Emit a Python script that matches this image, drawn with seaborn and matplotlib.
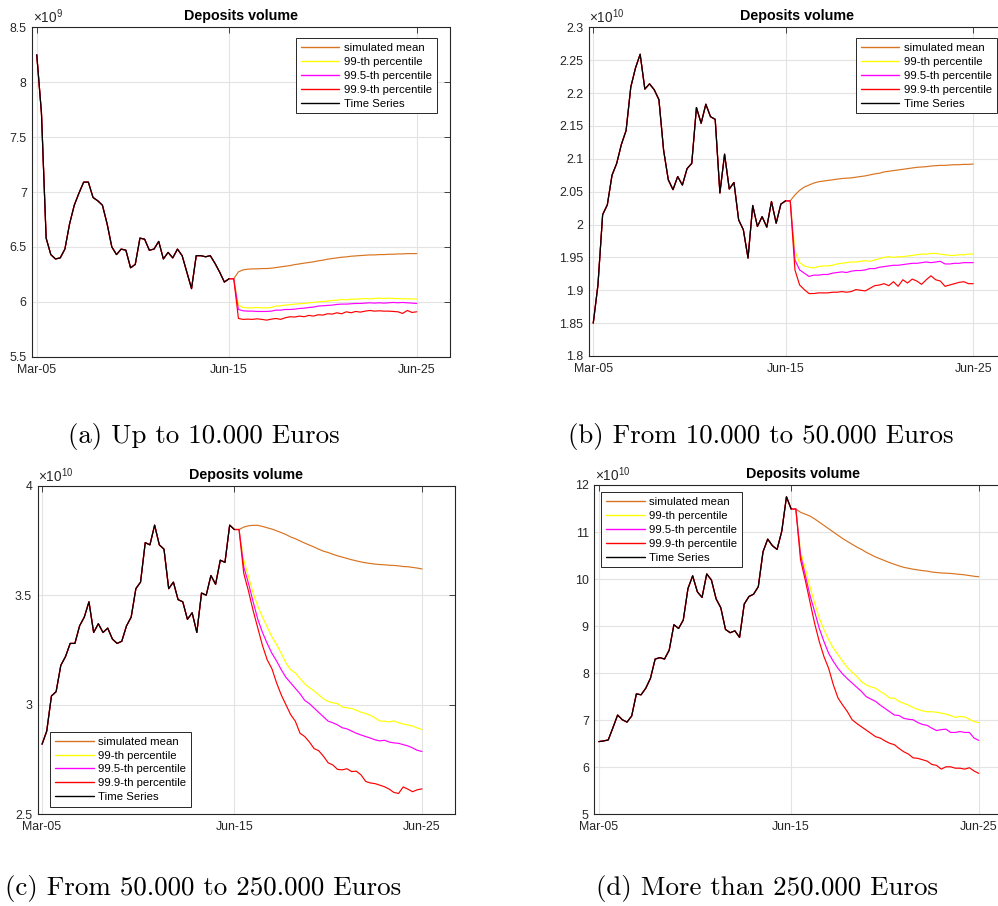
import numpy as np
import pandas as pd
import matplotlib
matplotlib.use("Agg")
import matplotlib.pyplot as plt
from matplotlib.lines import Line2D
from matplotlib.ticker import MultipleLocator, FuncFormatter, FixedLocator
import seaborn as sns

sns.set_theme(style="white")
plt.rcParams["font.family"] = ["Liberation Sans", "DejaVu Sans"]
plt.rcParams["mathtext.fontset"] = "custom"
plt.rcParams["mathtext.rm"] = "Liberation Sans"
plt.rcParams["mathtext.it"] = "Liberation Sans:italic"
plt.rcParams["mathtext.bf"] = "Liberation Sans:bold"

# ---------------------------------------------------------------------------
# Quarterly deposit volumes: observed history Mar-05 .. Jun-15 (42 quarters)
# and simulated paths Sep-15 .. Jun-25 (40 quarters).
# Values are in units of 10^exponent euros (see EXPONENTS).
# ---------------------------------------------------------------------------
tick_quarters = [0, 41, 81]
tick_labels = ["Mar-05", "Jun-15", "Jun-25"]
series_labels = ["simulated mean", "99-th percentile", "99.5-th percentile",
                 "99.9-th percentile", "Time Series"]
EXPONENTS = [9, 10, 10, 10]

# (a) Up to 10.000 Euros
hist_a = [8.25, 7.72, 6.58, 6.43, 6.39, 6.40, 6.48, 6.71, 6.88, 6.99, 7.09, 7.09,
          6.95, 6.92, 6.88, 6.71, 6.50, 6.43, 6.48, 6.47, 6.31, 6.34, 6.58, 6.57,
          6.47, 6.48, 6.55, 6.39, 6.45, 6.40, 6.48, 6.42, 6.27, 6.12, 6.42, 6.42,
          6.41, 6.42, 6.35, 6.27, 6.18, 6.21]
mean_a = [6.21, 6.273, 6.291, 6.297, 6.30, 6.30, 6.303, 6.303, 6.306, 6.312,
          6.318, 6.324, 6.33, 6.339, 6.345, 6.352, 6.358, 6.364, 6.373, 6.379,
          6.388, 6.394, 6.40, 6.406, 6.409, 6.415, 6.418, 6.421, 6.424, 6.427,
          6.427, 6.43, 6.43, 6.433, 6.433, 6.436, 6.436, 6.439, 6.439, 6.439]
p99_a = [6.21, 5.97, 5.948, 5.945, 5.945, 5.948, 5.945, 5.945, 5.948, 5.961,
         5.964, 5.97, 5.973, 5.979, 5.982, 5.985, 5.991, 5.994, 6.0, 6.003,
         6.006, 6.012, 6.015, 6.021, 6.018, 6.024, 6.024, 6.027, 6.03, 6.027,
         6.03, 6.033, 6.03, 6.033, 6.03, 6.03, 6.027, 6.027, 6.027, 6.024]
p995_a = [6.21, 5.93, 5.918, 5.915, 5.915, 5.912, 5.912, 5.912, 5.915, 5.924,
          5.924, 5.93, 5.93, 5.933, 5.939, 5.942, 5.948, 5.952, 5.961, 5.964,
          5.967, 5.97, 5.976, 5.979, 5.979, 5.982, 5.985, 5.985, 5.988, 5.991,
          5.988, 5.991, 5.988, 5.991, 5.994, 5.991, 5.994, 5.991, 5.988, 5.985]
p999_a = [6.21, 5.848, 5.84, 5.842, 5.84, 5.845, 5.84, 5.833, 5.842, 5.848,
          5.84, 5.855, 5.864, 5.861, 5.87, 5.864, 5.876, 5.87, 5.882, 5.879,
          5.891, 5.888, 5.90, 5.891, 5.909, 5.90, 5.912, 5.906, 5.915, 5.921,
          5.915, 5.918, 5.915, 5.915, 5.912, 5.909, 5.894, 5.921, 5.903, 5.909]

# (b) From 10.000 to 50.000 Euros
hist_b = [1.85, 1.908, 2.015, 2.03, 2.075, 2.093, 2.122, 2.143, 2.209, 2.238,
          2.259, 2.206, 2.214, 2.205, 2.19, 2.113, 2.068, 2.053, 2.073, 2.06,
          2.085, 2.093, 2.178, 2.154, 2.183, 2.164, 2.16, 2.048, 2.107, 2.054,
          2.064, 2.007, 1.992, 1.949, 2.029, 1.997, 2.012, 1.996, 2.035, 2.002,
          2.031, 2.036]
mean_b = [2.036, 2.045, 2.052, 2.057, 2.060, 2.063, 2.065, 2.066, 2.067, 2.068,
          2.069, 2.070, 2.0705, 2.071, 2.072, 2.073, 2.074, 2.0755, 2.077, 2.078,
          2.080, 2.081, 2.082, 2.083, 2.084, 2.085, 2.086, 2.087, 2.0875, 2.088,
          2.089, 2.0895, 2.090, 2.090, 2.0905, 2.091, 2.091, 2.0915, 2.0915, 2.092]
p99_b = [2.036, 1.96, 1.942, 1.937, 1.935, 1.934, 1.936, 1.937, 1.937, 1.938,
         1.940, 1.941, 1.942, 1.943, 1.943, 1.944, 1.945, 1.944, 1.946, 1.948,
         1.950, 1.951, 1.950, 1.951, 1.951, 1.952, 1.953, 1.954, 1.955, 1.955,
         1.956, 1.956, 1.955, 1.954, 1.953, 1.953, 1.954, 1.954, 1.955, 1.955]
p995_b = [2.036, 1.946, 1.931, 1.926, 1.921, 1.923, 1.923, 1.924, 1.924, 1.926,
          1.927, 1.928, 1.927, 1.929, 1.930, 1.930, 1.931, 1.933, 1.933, 1.935,
          1.936, 1.937, 1.938, 1.938, 1.939, 1.940, 1.941, 1.941, 1.942, 1.943,
          1.942, 1.943, 1.944, 1.940, 1.940, 1.941, 1.941, 1.942, 1.942, 1.942]
p999_b = [2.036, 1.931, 1.908, 1.901, 1.895, 1.895, 1.896, 1.896, 1.896, 1.897,
          1.897, 1.898, 1.897, 1.898, 1.901, 1.900, 1.899, 1.903, 1.907, 1.908,
          1.910, 1.907, 1.913, 1.906, 1.916, 1.911, 1.917, 1.914, 1.909, 1.916,
          1.922, 1.916, 1.914, 1.906, 1.908, 1.910, 1.912, 1.913, 1.910, 1.910]

# (c) From 50.000 to 250.000 Euros
hist_c = [2.82, 2.88, 3.04, 3.06, 3.18, 3.22, 3.28, 3.28, 3.36, 3.40, 3.47, 3.33,
          3.37, 3.33, 3.35, 3.30, 3.28, 3.29, 3.36, 3.40, 3.53, 3.56, 3.74, 3.73,
          3.82, 3.73, 3.71, 3.53, 3.56, 3.48, 3.47, 3.39, 3.42, 3.33, 3.51, 3.50,
          3.59, 3.55, 3.66, 3.65, 3.82, 3.80]
mean_c = [3.80, 3.811, 3.817, 3.819, 3.819, 3.814, 3.808, 3.802, 3.794, 3.786,
          3.777, 3.766, 3.758, 3.748, 3.738, 3.729, 3.720, 3.710, 3.701, 3.695,
          3.687, 3.680, 3.674, 3.668, 3.662, 3.657, 3.652, 3.648, 3.645, 3.642,
          3.640, 3.639, 3.637, 3.636, 3.634, 3.631, 3.630, 3.627, 3.624, 3.620]
p99_c = [3.80, 3.66, 3.585, 3.51, 3.45, 3.40, 3.355, 3.31, 3.275, 3.235,
         3.19, 3.16, 3.145, 3.12, 3.095, 3.078, 3.063, 3.045, 3.027, 3.015,
         3.009, 3.005, 2.99, 2.986, 2.983, 2.975, 2.966, 2.96, 2.952, 2.94,
         2.926, 2.925, 2.922, 2.926, 2.918, 2.912, 2.908, 2.903, 2.894, 2.887]
p995_c = [3.80, 3.63, 3.555, 3.47, 3.39, 3.33, 3.28, 3.235, 3.20, 3.16,
          3.125, 3.10, 3.075, 3.05, 3.02, 3.005, 2.985, 2.965, 2.945, 2.925,
          2.918, 2.908, 2.895, 2.89, 2.88, 2.87, 2.862, 2.855, 2.848, 2.84,
          2.835, 2.838, 2.83, 2.826, 2.824, 2.818, 2.812, 2.803, 2.792, 2.787]
p999_c = [3.80, 3.60, 3.52, 3.43, 3.35, 3.27, 3.205, 3.165, 3.10, 3.045,
          3.00, 2.955, 2.925, 2.87, 2.855, 2.83, 2.80, 2.79, 2.765, 2.735,
          2.725, 2.705, 2.703, 2.708, 2.695, 2.697, 2.68, 2.65, 2.643, 2.64,
          2.633, 2.626, 2.615, 2.60, 2.595, 2.625, 2.615, 2.603, 2.612, 2.616]

# (d) More than 250.000 Euros
hist_d = [6.545, 6.56, 6.58, 6.84, 7.11, 7.01, 6.96, 7.09, 7.56, 7.54, 7.68, 7.89,
          8.30, 8.33, 8.30, 8.49, 9.03, 8.95, 9.13, 9.80, 10.07, 9.73, 9.61, 10.11,
          9.98, 9.58, 9.39, 8.93, 8.86, 8.90, 8.76, 9.47, 9.63, 9.68, 9.84, 10.58,
          10.85, 10.71, 10.63, 11.02, 11.75, 11.49]
mean_d = [11.49, 11.42, 11.38, 11.34, 11.28, 11.21, 11.14, 11.07, 11.0, 10.93,
          10.86, 10.80, 10.74, 10.68, 10.63, 10.57, 10.52, 10.47, 10.43, 10.39,
          10.35, 10.315, 10.28, 10.25, 10.23, 10.21, 10.195, 10.18, 10.17, 10.15,
          10.14, 10.13, 10.125, 10.12, 10.11, 10.10, 10.09, 10.075, 10.06, 10.05]
p99_d = [11.49, 10.585, 10.23, 9.84, 9.49, 9.17, 8.92, 8.71, 8.53, 8.39,
         8.25, 8.12, 8.02, 7.93, 7.82, 7.75, 7.71, 7.68, 7.61, 7.55,
         7.47, 7.47, 7.40, 7.36, 7.32, 7.27, 7.23, 7.20, 7.18, 7.18,
         7.17, 7.15, 7.13, 7.10, 7.06, 7.08, 7.07, 7.02, 6.97, 6.95]
p995_d = [11.49, 10.51, 10.09, 9.66, 9.31, 8.95, 8.67, 8.42, 8.25, 8.10,
          7.98, 7.88, 7.79, 7.70, 7.61, 7.50, 7.45, 7.40, 7.32, 7.25,
          7.18, 7.11, 7.10, 7.04, 7.02, 7.01, 6.95, 6.91, 6.89, 6.83,
          6.78, 6.80, 6.81, 6.74, 6.74, 6.76, 6.74, 6.74, 6.62, 6.57]
p999_d = [11.49, 10.41, 9.98, 9.52, 9.06, 8.67, 8.35, 8.10, 7.75, 7.47,
          7.32, 7.18, 7.01, 6.93, 6.86, 6.79, 6.72, 6.65, 6.62, 6.56,
          6.51, 6.48, 6.40, 6.33, 6.28, 6.20, 6.19, 6.16, 6.13, 6.06,
          6.04, 5.96, 6.01, 6.01, 5.98, 5.98, 5.96, 5.99, 5.92, 5.87]

captions = ["(a) Up to 10.000 Euros",
            "(b) From 10.000 to 50.000 Euros",
            "(c) From 50.000 to 250.000 Euros",
            "(d) More than 250.000 Euros"]

# ---------------------------------------------------------------------------
W, H = 998, 906
fig = plt.figure(figsize=(W / 100, H / 100), dpi=100)
fig.patch.set_facecolor("white")

colors = ["#D8731F", "#FFFF00", "#FF00FF", "#FF0000", "#000000"]
palette = dict(zip(series_labels, colors))
INK = "#262626"


def px_rect(left, top, width, height):
    return [left / W, 1 - (top + height) / H, width / W, height / H]


layout = [
    dict(rect=px_rect(32.3, 27.3, 417.2, 329.4), ylim=(5.5, 8.5), step=0.5,
         loc="upper right", anchor=(0.9698, 0.9666), cap=(204, 443.5)),
    dict(rect=px_rect(588.8, 27.3, 417.2, 328.7), ylim=(1.8, 2.3), step=0.05,
         loc="upper right", anchor=(0.978, 0.9666), cap=(761, 443.5)),
    dict(rect=px_rect(37.6, 485.7, 417.2, 328.6), ylim=(2.5, 4.0), step=0.5,
         loc="lower left", anchor=(0.0305, 0.0222), cap=(203, 895.5)),
    dict(rect=px_rect(594.4, 485.0, 417.2, 329.3), ylim=(5.0, 12.0), step=1.0,
         loc="upper left", anchor=(0.016, 0.978), cap=(767, 895.5)),
]

data = [
    (hist_a, mean_a, p99_a, p995_a, p999_a),
    (hist_b, mean_b, p99_b, p995_b, p999_b),
    (hist_c, mean_c, p99_c, p995_c, p999_c),
    (hist_d, mean_d, p99_d, p995_d, p999_d),
]

for (hist, mean, p99, p995, p999), exp, cfg, caption in zip(data, EXPONENTS, layout, captions):
    scale = 10.0 ** exp
    frames = []
    for label, fc in zip(series_labels[:4], [mean, p99, p995, p999]):
        full = list(hist) + list(fc)
        frames.append(pd.DataFrame({"quarter": np.arange(len(full)),
                                    "volume": np.array(full) * scale,
                                    "series": label}))
    frames.append(pd.DataFrame({"quarter": np.arange(len(hist)),
                                "volume": np.array(hist) * scale,
                                "series": series_labels[4]}))
    df = pd.concat(frames, ignore_index=True)

    ax = fig.add_axes(cfg["rect"])
    sns.lineplot(data=df, x="quarter", y="volume", hue="series",
                 hue_order=series_labels, palette=palette, estimator=None,
                 linewidth=0.85, legend=False, ax=ax)

    ax.set_xlim(-0.95, 88.0)
    ax.set_ylim(cfg["ylim"][0] * scale, cfg["ylim"][1] * scale)
    ax.xaxis.set_major_locator(FixedLocator(tick_quarters))
    ax.set_xticklabels(tick_labels)
    ax.yaxis.set_major_locator(MultipleLocator(cfg["step"] * scale))
    ax.yaxis.set_major_formatter(FuncFormatter(lambda v, _p, s=scale: f"{v / s:g}"))
    ax.set_xlabel("")
    ax.set_ylabel("")

    ax.set_axisbelow(True)
    ax.grid(True, which="major", color="#e3e3e3", linewidth=0.8)
    for sp in ax.spines.values():
        sp.set_visible(True)
        sp.set_color(INK)
        sp.set_linewidth(0.8)
    ax.tick_params(direction="in", length=4, width=0.6, colors=INK,
                   top=True, right=True, labelsize=8.9)
    ax.tick_params(axis="x", pad=5)
    ax.tick_params(axis="y", pad=4)

    ax.set_title("Deposits volume", fontsize=10.3, fontweight="bold",
                 color="black", pad=5)
    ax.annotate(r"$\mathregular{\times10^{%d}}$" % exp, xy=(0, 1),
                xycoords="axes fraction", xytext=(0.5, 0.8),
                textcoords="offset points", ha="left", va="bottom",
                fontsize=9.8, color=INK)

    handles = [Line2D([], [], color=c, linewidth=1.0) for c in colors]
    leg = ax.legend(handles, series_labels, loc=cfg["loc"],
                    bbox_to_anchor=cfg["anchor"], borderaxespad=0,
                    frameon=True, fancybox=False, framealpha=1,
                    edgecolor=INK, fontsize=8.2, handlelength=3.4,
                    handletextpad=0.4, borderpad=0.42, labelspacing=0.34)
    leg.get_frame().set_linewidth(0.7)
    for t in leg.get_texts():
        t.set_color("black")

    fig.text(cfg["cap"][0] / W, 1 - cfg["cap"][1] / H, caption,
             ha="center", va="baseline", fontfamily="cmr10", fontsize=19.4,
             color="black")

fig.savefig("out.png", dpi=100, facecolor="white")
